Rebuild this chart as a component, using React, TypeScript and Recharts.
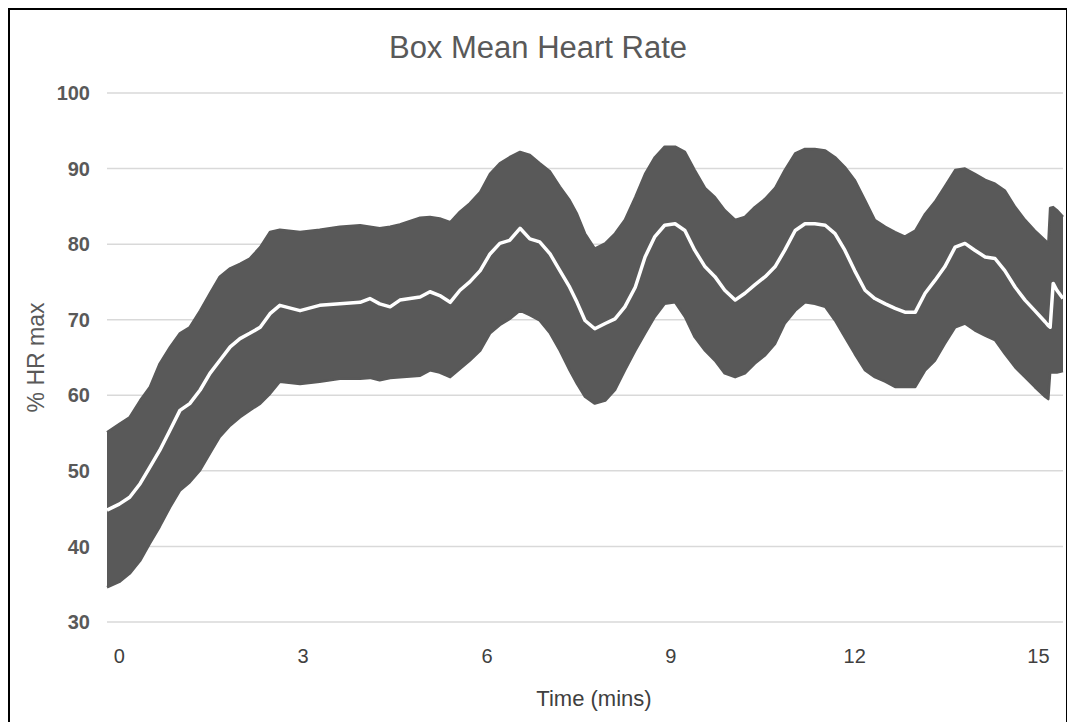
import React from 'react';
import { ComposedChart, Area, Line, XAxis, YAxis, CartesianGrid, Label } from 'recharts';

// Time in minutes
const timeMins = [
  -0.2, 0.0, 0.17, 0.34, 0.5, 0.66, 0.83, 0.99, 1.15, 1.32, 1.48, 1.64, 1.81, 1.97, 2.13, 2.3, 2.46, 2.62,
  2.95, 3.27, 3.6, 3.93, 4.09, 4.25, 4.42, 4.58, 4.91, 5.07, 5.23, 5.4, 5.56, 5.72, 5.89, 6.05, 6.21, 6.37,
  6.54, 6.7, 6.86, 7.03, 7.19, 7.35, 7.47, 7.6, 7.76, 7.93, 8.09, 8.25, 8.42, 8.58, 8.74, 8.9, 9.07, 9.23,
  9.39, 9.56, 9.72, 9.88, 10.05, 10.21, 10.37, 10.54, 10.7, 10.86, 11.03, 11.19, 11.35, 11.52, 11.68, 11.84,
  12.0, 12.17, 12.33, 12.5, 12.66, 12.82, 12.99, 13.15, 13.31, 13.47, 13.64, 13.8, 13.96, 14.13, 14.29,
  14.45, 14.62, 14.78, 14.94, 15.11, 15.16, 15.19, 15.24, 15.3, 15.4,
];

// Upper edge of the error band (% HR max)
const upperHR = [
  55.1, 56.2, 57.1, 59.3, 61.1, 64.2, 66.4, 68.2, 69.0, 71.2, 73.5, 75.7, 76.8, 77.4, 78.1, 79.6, 81.6, 81.9,
  81.6, 81.9, 82.3, 82.5, 82.3, 82.1, 82.3, 82.6, 83.5, 83.6, 83.4, 82.9, 84.3, 85.4, 86.9, 89.3, 90.7, 91.5,
  92.2, 91.8, 90.7, 89.6, 87.6, 85.8, 84.0, 81.4, 79.4, 80.1, 81.4, 83.2, 86.2, 89.3, 91.5, 92.9, 92.9, 92.2,
  89.8, 87.4, 86.2, 84.5, 83.2, 83.6, 84.9, 86.0, 87.4, 89.8, 92.0, 92.6, 92.6, 92.4, 91.5, 90.2,
  88.5, 85.8, 83.2, 82.3, 81.6, 81.0, 81.8, 84.0, 85.6, 87.6, 89.8, 90.0, 89.3, 88.5, 88.0,
  87.1, 84.9, 83.2, 81.8, 80.5, 80.0, 84.8, 84.9, 84.5, 83.6,
];

// Lower edge of the error band (% HR max)
const lowerHR = [
  34.6, 35.3, 36.4, 38.1, 40.4, 42.6, 45.2, 47.4, 48.5, 50.1, 52.3, 54.5, 56.0, 57.1, 58.0, 58.9, 60.2, 61.8,
  61.5, 61.8, 62.2, 62.2, 62.3, 62.0, 62.3, 62.4, 62.6, 63.3, 63.0, 62.4, 63.5, 64.6, 65.9, 68.2, 69.3, 70.1,
  71.2, 70.6, 69.9, 68.2, 65.9, 63.3, 61.5, 59.8, 58.9, 59.3, 60.7, 63.3, 65.9, 68.2, 70.4, 72.1, 72.3, 70.4,
  67.7, 65.9, 64.6, 62.9, 62.4, 62.9, 64.2, 65.3, 66.8, 69.5, 71.2, 72.3, 72.1, 71.7, 69.9, 67.7,
  65.5, 63.3, 62.4, 61.8, 61.1, 61.1, 61.1, 63.3, 64.6, 66.8, 69.0, 69.5, 68.6, 67.9, 67.3,
  65.5, 63.7, 62.4, 61.1, 59.8, 59.5, 63.0, 63.0, 63.0, 63.2,
];

// Mean heart rate (% HR max)
const meanHR = [
  44.8, 45.6, 46.5, 48.3, 50.5, 52.7, 55.4, 58.0, 58.9, 60.7, 62.9, 64.6, 66.4, 67.5, 68.2, 69.0, 70.8, 71.9,
  71.2, 71.9, 72.1, 72.3, 72.8, 72.1, 71.7, 72.6, 73.0, 73.7, 73.2, 72.3, 73.9, 75.0, 76.5, 78.7, 80.1, 80.5,
  82.1, 80.7, 80.3, 78.7, 76.5, 74.3, 72.3, 69.9, 68.8, 69.5, 70.1, 71.7, 74.3, 78.3, 81.0, 82.5, 82.7, 81.8,
  79.2, 77.0, 75.7, 73.9, 72.6, 73.5, 74.6, 75.7, 77.0, 79.2, 81.8, 82.7, 82.7, 82.5, 81.4, 79.2,
  76.5, 73.9, 72.8, 72.1, 71.5, 71.0, 71.0, 73.5, 75.2, 77.0, 79.6, 80.1, 79.2, 78.3, 78.1,
  76.5, 74.3, 72.6, 71.2, 69.7, 69.2, 69.0, 74.8, 73.9, 72.8,
];

const xTicks = [0, 3, 6, 9, 12, 15];
const yTicks = [30, 40, 50, 60, 70, 80, 90, 100];

const data = timeMins.map((t, i) => ({
  t,
  band: [lowerHR[i], upperHR[i]],
  mean: meanHR[i],
}));

const FONT = '"Liberation Sans", Arial, sans-serif';

export default function App() {
  return (
    <div
      style={{
        position: 'relative',
        margin: '-1px 0 0 -1px',
        border: '3px solid #000',
        width: 1056,
        height: 712,
        background: '#fff',
        fontFamily: FONT,
      }}
    >
      <div
        style={{
          position: 'absolute',
          top: 22,
          left: 0,
          width: 1056,
          textAlign: 'center',
          fontSize: 31,
          lineHeight: '31px',
          color: '#595959',
          fontFamily: FONT,
        }}
      >
        Box Mean Heart Rate
      </div>
      <ComposedChart
        width={1056}
        height={712}
        data={data}
        margin={{ top: 83, right: 3, bottom: 0, left: 0 }}
      >
        <CartesianGrid vertical={false} stroke="#d9d9d9" strokeWidth={1.5} />
        <XAxis
          type="number"
          dataKey="t"
          domain={[-0.2, 15.4]}
          ticks={xTicks}
          axisLine={false}
          tickLine={false}
          tickMargin={21}
          height={100}
          tick={{ fill: '#404040', fontSize: 20, fontFamily: FONT }}
        >
          <Label
            value="Time (mins)"
            position="insideBottom"
            offset={16}
            dx={9}
            style={{ fill: '#404040', fontSize: 22, fontFamily: FONT }}
          />
        </XAxis>
        <YAxis
          type="number"
          domain={[30, 100]}
          ticks={yTicks}
          axisLine={false}
          tickLine={false}
          tickMargin={11}
          width={97}
          tick={{ fill: '#595959', fontSize: 20, fontWeight: 'bold', fontFamily: FONT }}
        >
          <Label
            value="% HR max"
            position="center"
            angle={-90}
            dx={-23}
            style={{ fill: '#595959', fontSize: 23, fontFamily: FONT }}
          />
        </YAxis>
        <Area
          type="linear"
          dataKey="band"
          stroke="#595959"
          strokeWidth={2.5}
          strokeLinejoin="round"
          fill="#595959"
          fillOpacity={1}
          isAnimationActive={false}
          dot={false}
          activeDot={false}
        />
        <Line
          type="linear"
          dataKey="mean"
          stroke="#ffffff"
          strokeWidth={3.5}
          strokeLinejoin="round"
          dot={false}
          activeDot={false}
          isAnimationActive={false}
        />
      </ComposedChart>
    </div>
  );
}
